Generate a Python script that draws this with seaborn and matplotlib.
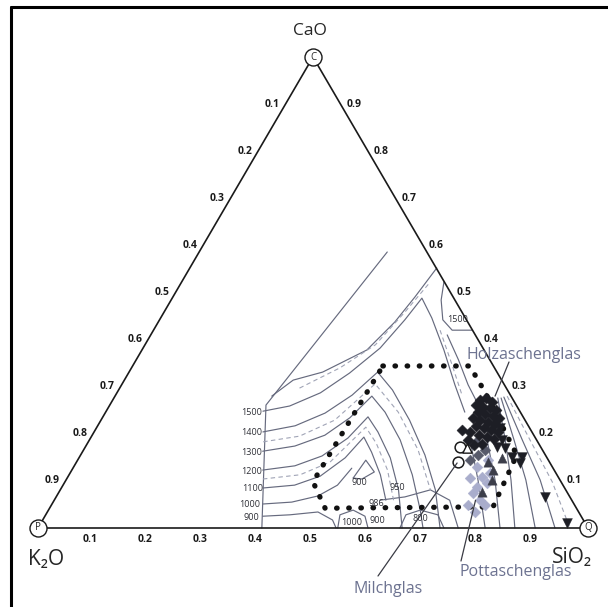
import matplotlib
matplotlib.use("Agg")
import matplotlib.pyplot as plt
import seaborn as sns
import numpy as np
from matplotlib.lines import Line2D


# =========================
# DATA  (mass fractions: SiO2, CaO ; K2O is the rest)
# =========================
ticks = [0.1, 0.2, 0.3, 0.4, 0.5, 0.6, 0.7, 0.8, 0.9]
tick_text = ["0.1", "0.2", "0.3", "0.4", "0.5", "0.6", "0.7", "0.8", "0.9"]

vertex_sio2 = [0.0, 1.0, 0.0]
vertex_cao = [0.0, 0.0, 1.0]
vertex_tags = ["P", "Q", "C"]

# limits of the drawn liquidus region
limit_a = ([0.342, 0.284, 0.407], [0.586, 0.261, 0.0])
limit_b = ([0.449, 0.440, 0.430, 0.409, 0.352, 0.307, 0.285],
           [0.552, 0.490, 0.437, 0.378, 0.331, 0.314, 0.280])

# solid isotherms
iso_1500 = ([0.285, 0.328, 0.370, 0.402, 0.431, 0.446, 0.454, 0.493, 0.549, 0.606, 0.653],
            [0.248, 0.259, 0.287, 0.329, 0.382, 0.442, 0.488, 0.446, 0.378, 0.304, 0.246])
iso_1400 = ([0.307, 0.359, 0.400, 0.430, 0.452, 0.498, 0.561, 0.626, 0.682, 0.731],
            [0.204, 0.217, 0.244, 0.282, 0.331, 0.293, 0.229, 0.155, 0.081, 0.0])
iso_1300 = ([0.327, 0.380, 0.423, 0.450, 0.467, 0.508, 0.565, 0.624, 0.676, 0.700],
            [0.163, 0.174, 0.197, 0.234, 0.280, 0.246, 0.187, 0.113, 0.038, 0.0])
iso_1200 = ([0.347, 0.401, 0.440, 0.468, 0.482, 0.516, 0.566, 0.615, 0.662],
            [0.123, 0.132, 0.153, 0.191, 0.236, 0.204, 0.149, 0.081, 0.0])
iso_1100 = ([0.367, 0.421, 0.458, 0.484, 0.496, 0.526, 0.566, 0.603],
            [0.085, 0.091, 0.110, 0.149, 0.193, 0.161, 0.113, 0.059])
iso_1000 = ([0.384, 0.434, 0.475, 0.499, 0.507],
            [0.051, 0.055, 0.068, 0.091, 0.127])
iso_900 = ([0.396, 0.444, 0.492, 0.527, 0.542],
           [0.025, 0.028, 0.034, 0.017, 0.0])
iso_1500_top = ([0.477, 0.491, 0.515, 0.543, 0.579],
                [0.522, 0.484, 0.442, 0.420, 0.420])
loop_900 = ([0.520, 0.524, 0.552, 0.537, 0.520], [0.106, 0.144, 0.119, 0.104, 0.106])
loop_1000 = ([0.545, 0.535, 0.554, 0.582, 0.600], [0.0, 0.028, 0.038, 0.025, 0.0])
iso_950 = ([0.592, 0.634, 0.673, 0.719, 0.764], [0.059, 0.066, 0.081, 0.059, 0.0])
iso_800 = ([0.658, 0.655, 0.676, 0.713, 0.738], [0.0, 0.028, 0.038, 0.028, 0.0])
arc_upper = ([0.539, 0.586, 0.630, 0.660], [0.410, 0.357, 0.304, 0.272])
drop_a = ([0.692, 0.749, 0.813], [0.187, 0.102, 0.0])
drop_b = ([0.723, 0.780, 0.840], [0.187, 0.102, 0.0])
fan_a = ([0.698, 0.756, 0.809, 0.867], [0.276, 0.187, 0.102, 0.0])
fan_b = ([0.704, 0.772, 0.836, 0.904], [0.276, 0.187, 0.102, 0.0])
fan_c = ([0.708, 0.787, 0.862, 0.940], [0.278, 0.187, 0.102, 0.0])

# dashed intermediate isotherms
dash_a = ([0.327, 0.379, 0.419, 0.438, 0.452], [0.297, 0.340, 0.389, 0.459, 0.522])
dash_b = ([0.318, 0.378, 0.425, 0.460, 0.532, 0.608, 0.673],
          [0.183, 0.195, 0.229, 0.306, 0.246, 0.166, 0.081])
dash_c = ([0.357, 0.420, 0.461, 0.489, 0.525, 0.574, 0.617],
          [0.104, 0.113, 0.140, 0.214, 0.180, 0.123, 0.059])
dash_d = ([0.521, 0.580, 0.630], [0.420, 0.346, 0.282])
dash_e = ([0.713, 0.801, 0.886, 0.967], [0.280, 0.187, 0.098, 0.0])

# temperature labels (deg C)
temp_text = ["1500", "1400", "1300", "1200", "1100", "1000", "900",
             "1500", "900", "950", "986", "1000", "900", "800"]
temp_sio2 = [0.266, 0.288, 0.308, 0.328, 0.348, 0.361, 0.377,
             0.541, 0.537, 0.609, 0.589, 0.564, 0.609, 0.685]
temp_cao = [0.246, 0.202, 0.161, 0.121, 0.083, 0.049, 0.023,
            0.442, 0.096, 0.087, 0.053, 0.011, 0.015, 0.021]

# dotted field of historic glasses
field_sio2 = [0.455, 0.613, 0.670, 0.793, 0.805, 0.501, 0.451, 0.455]
field_cao = [0.344, 0.344, 0.287, 0.155, 0.045, 0.042, 0.098, 0.344]

# analyses
dark_sio2 = [0.668, 0.677, 0.691, 0.665, 0.681, 0.695, 0.708, 0.677, 0.692, 0.708,
             0.721, 0.674, 0.690, 0.705, 0.721, 0.688, 0.705, 0.720, 0.734, 0.683,
             0.703, 0.719, 0.734, 0.667, 0.689, 0.705, 0.718]
dark_cao = [0.272, 0.276, 0.268, 0.261, 0.257, 0.255, 0.251, 0.246, 0.242, 0.238,
            0.234, 0.234, 0.229, 0.225, 0.221, 0.217, 0.212, 0.208, 0.204, 0.204,
            0.197, 0.193, 0.189, 0.208, 0.187, 0.176, 0.178]

down_sio2 = [0.749, 0.764, 0.787, 0.805, 0.807, 0.889, 0.957, 0.751, 0.734]
down_cao = [0.172, 0.170, 0.151, 0.151, 0.138, 0.066, 0.011, 0.187, 0.212]

up_sio2 = [0.770, 0.765, 0.774, 0.769, 0.748]
up_cao = [0.149, 0.123, 0.102, 0.076, 0.140]

grey_sio2 = [0.704, 0.722, 0.730, 0.713]
grey_cao = [0.183, 0.155, 0.166, 0.144]

light_sio2 = [0.733, 0.746, 0.764, 0.754, 0.754, 0.753, 0.768, 0.732, 0.774, 0.758, 0.778, 0.789]
light_cao = [0.130, 0.144, 0.117, 0.087, 0.074, 0.108, 0.096, 0.106, 0.059, 0.049, 0.034, 0.049]

milch_sio2 = [0.681, 0.694]
milch_cao = [0.172, 0.140]
milch_tri_sio2 = [0.695]
milch_tri_cao = [0.170]

# leader targets for the glass names
glass_names = ["Holzaschenglas", "Pottaschenglas", "Milchglas"]
glass_sio2 = [0.691, 0.766, 0.693]
glass_cao = [0.280, 0.059, 0.138]


def to_xy(sio2, cao):
    sio2 = np.asarray(sio2, dtype=float)
    cao = np.asarray(cao, dtype=float)
    return sio2 + cao / 2, cao


# =========================
# FIGURE
# =========================
sns.set_style("white")
plt.rcParams['font.family'] = ['Open Sans', 'DejaVu Sans']

fig = plt.figure(figsize=(6.08, 6.07), dpi=100)
ax = fig.add_axes([0, 0, 1, 1])
ax.set_xlim(-38 / 550, 570 / 550)
ax.set_ylim(-79 / 471, 528 / 471)
ax.axis("off")

line_col = "#666a7e"
dash_col = "#a0a4b6"
dark = "#1d1e25"
mid = "#575a6a"
lav = "#a9adcc"
name_col = "#6c7290"

# isotherms
for ln in [limit_a, limit_b, iso_1500, iso_1400, iso_1300, iso_1200, iso_1100,
           iso_1000, iso_900, iso_1500_top, loop_900, loop_1000, iso_950, iso_800,
           arc_upper, drop_a, drop_b, fan_a, fan_b, fan_c]:
    x, y = to_xy(*ln)
    ax.plot(x, y, color=line_col, lw=0.85, zorder=2)

for ln in [dash_a, dash_b, dash_c, dash_d, dash_e]:
    x, y = to_xy(*ln)
    ax.plot(x, y, color=dash_col, lw=0.8, ls=(0, (4, 3)), zorder=2)

tx, ty = to_xy(temp_sio2, temp_cao)
for t, x, y in zip(temp_text, tx, ty):
    ax.text(x, y, t, fontsize=6.5, color="#2e2f36", ha="center", va="center",
            zorder=3)

# dotted field
fx, fy = to_xy(field_sio2, field_cao)
ax.plot(fx, fy, color="#111111", lw=3.8, ls=(0, (0.1, 2.2)),
        dash_capstyle="round", zorder=4)

# analyses
x, y = to_xy(light_sio2, light_cao)
sns.scatterplot(x=x, y=y, ax=ax, marker="D", s=30, color=lav,
                edgecolor=lav, linewidth=0.3, legend=False, zorder=5)
x, y = to_xy(grey_sio2, grey_cao)
sns.scatterplot(x=x, y=y, ax=ax, marker="D", s=30, color=mid,
                edgecolor=mid, linewidth=0.3, legend=False, zorder=5)
x, y = to_xy(dark_sio2, dark_cao)
sns.scatterplot(x=x, y=y, ax=ax, marker="D", s=32, color=dark,
                edgecolor=dark, linewidth=0.3, legend=False, zorder=6)
x, y = to_xy(down_sio2, down_cao)
sns.scatterplot(x=x, y=y, ax=ax, marker="v", s=50, color=dark,
                edgecolor=dark, linewidth=0.3, legend=False, zorder=6)
x, y = to_xy(up_sio2, up_cao)
sns.scatterplot(x=x, y=y, ax=ax, marker="^", s=45, color="#3c3e4a",
                edgecolor="#3c3e4a", linewidth=0.3, legend=False, zorder=6)
x, y = to_xy(milch_sio2, milch_cao)
sns.scatterplot(x=x, y=y, ax=ax, marker="o", s=60, color="white",
                edgecolor="#1a1a1a", linewidth=1.1, legend=False, zorder=7)
x, y = to_xy(milch_tri_sio2, milch_tri_cao)
sns.scatterplot(x=x, y=y, ax=ax, marker="^", s=45, color="white",
                edgecolor="#1a1a1a", linewidth=1.0, legend=False, zorder=7)

# triangle frame
vx, vy = to_xy(vertex_sio2 + vertex_sio2[:1], vertex_cao + vertex_cao[:1])
ax.plot(vx, vy, color="#1a1a1a", lw=1.2, zorder=8)

vx, vy = to_xy(vertex_sio2, vertex_cao)
ax.scatter(vx, vy, s=150, facecolor="white", edgecolor="#1a1a1a",
           linewidth=1.0, zorder=9)
for tag, x, y in zip(vertex_tags, vx, vy):
    ax.text(x, y, tag, fontsize=7, ha="center", va="center", zorder=10)

# edge tick labels
t = np.asarray(ticks)
bx, by = to_xy(t, np.zeros_like(t))
lx, ly = to_xy(np.zeros_like(t), 1 - t)
rx, ry = to_xy(1 - t, t)
tick_kw = dict(textcoords="offset points", fontsize=7.5, fontweight="bold",
               color="#1a1a1a", ha="center", va="center")
for lab, x, y in zip(tick_text, bx, by):
    ax.annotate(lab, (x, y), xytext=(-2.2, -8.6), **tick_kw)
for lab, x, y in zip(tick_text, lx, ly):
    ax.annotate(lab, (x, y), xytext=(-9.5, 0), **tick_kw)
for lab, x, y in zip(tick_text, rx, ry):
    ax.annotate(lab, (x, y), xytext=(9.6, 0), **tick_kw)

# component names
fig.text(310 / 608, 1 - 31 / 607, "CaO", fontsize=12.5, ha="center", va="center")
fig.text(46 / 608, 1 - 559 / 607, "K₂O", fontsize=15, ha="center", va="center")
fig.text(572 / 608, 1 - 557 / 607, "SiO₂", fontsize=15, ha="center", va="center")

# glass names with leaders
gx, gy = to_xy(glass_sio2, glass_cao)
leader_from = [(509, 362), (461, 561), (378, 576)]
name_at = [(524, 355), (516, 572), (388, 589)]
for name, x, y, (sx, sy), (nx, ny) in zip(glass_names, gx, gy, leader_from, name_at):
    ax.annotate("", xy=(x, y), xytext=(sx, 607 - sy), textcoords="figure pixels",
                arrowprops=dict(arrowstyle="-", color="#3a3b44", lw=0.9,
                                shrinkA=0, shrinkB=0), zorder=8)
    fig.text(nx / 608, 1 - ny / 607, name, fontsize=11.5, color=name_col,
             ha="center", va="center")

# scan frame (left and top)
fig.add_artist(Line2D([11 / 608, 11 / 608], [0, 1 - 7 / 607],
                      transform=fig.transFigure, color="black", lw=2.2))
fig.add_artist(Line2D([11 / 608, 1], [1 - 7 / 607, 1 - 7 / 607],
                      transform=fig.transFigure, color="black", lw=2.2))

fig.savefig("out.png", dpi=100)
